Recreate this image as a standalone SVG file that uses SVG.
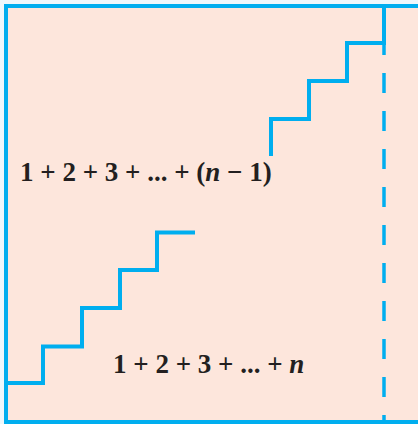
<svg xmlns="http://www.w3.org/2000/svg" width="418" height="424" viewBox="0 0 418 424">
  <style>
    .line { fill: none; stroke: #00aeef; stroke-width: 4; stroke-linejoin: miter; stroke-linecap: butt; }
    .frame { fill: #fde6dc; stroke: #00aeef; stroke-width: 4; }
    .dash { fill: none; stroke: #00aeef; stroke-width: 3.5; stroke-dasharray: 20 18; stroke-dashoffset: 8; }
    .label { font-family: "Liberation Serif", "Times New Roman", serif; font-weight: bold; font-size: 27px; fill: #231f20; }
    .it { font-style: italic; }
  </style>
  <rect x="0" y="0" width="418" height="424" fill="#eef8fc"/>
  <rect id="square" class="frame" x="6" y="6" width="420" height="416"/>
  <g id="upper-staircase">
    <path class="line" d="M384 6 V43 H347 V81 H309 V119 H271 V156"/>
  </g>
  <g id="lower-staircase">
    <path class="line" d="M6 383 H43 V346.5 H82 V308 H120 V270 H157 V232.5 H195"/>
  </g>
  <g id="divider">
    <path class="dash" d="M384 43 V422"/>
  </g>
  <g id="label-upper">
    <text class="label" x="20" y="181">1 + 2 + 3 + ... + (<tspan class="it">n</tspan> − 1)</text>
  </g>
  <g id="label-lower">
    <text class="label" x="113" y="373">1 + 2 + 3 + ... + <tspan class="it">n</tspan></text>
  </g>
</svg>
